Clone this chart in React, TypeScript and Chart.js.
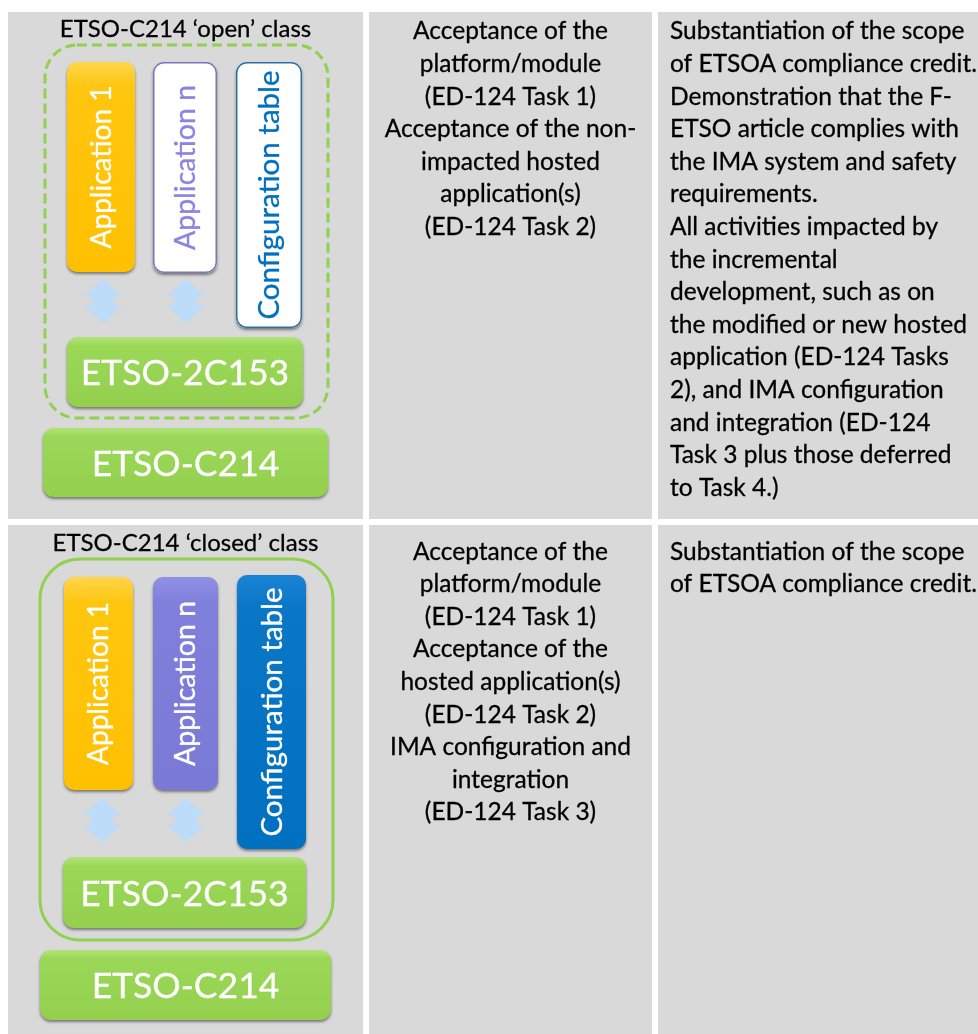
import React, { useEffect, useRef } from "react";
import { Chart, registerables } from "chart.js";

Chart.register(...registerables);

// ---------- content ----------
const classTitles = ["ETSO-C214 \u2018open\u2019 class", "ETSO-C214 \u2018closed\u2019 class"];
const hostedLabels = ["Application 1", "Application n", "Configuration table"];
const platformLabels = ["ETSO-2C153", "ETSO-C214"];
const acceptanceLines = [
  [
    "Acceptance of the",
    "platform/module",
    "(ED-124 Task 1)",
    "Acceptance of the non-",
    "impacted hosted",
    "application(s)",
    "(ED-124 Task 2)",
  ],
  [
    "Acceptance of the",
    "platform/module",
    "(ED-124 Task 1)",
    "Acceptance of the",
    "hosted application(s)",
    "(ED-124 Task 2)",
    "IMA configuration and",
    "integration",
    "(ED-124 Task 3)",
  ],
];
const etsoaLines = [
  [
    "Substantiation of the scope",
    "of ETSOA compliance credit.",
    "Demonstration that the F-",
    "ETSO article complies with",
    "the IMA system and safety",
    "requirements.",
    "All activities impacted by",
    "the incremental",
    "development, such as on",
    "the modified or new hosted",
    "application (ED-124 Tasks",
    "2), and IMA configuration",
    "and integration (ED-124",
    "Task 3 plus those deferred",
    "to Task 4.)",
  ],
  ["Substantiation of the scope", "of ETSOA compliance credit."],
];

// ---------- diagram geometry (diagram units on the x / y scales) ----------
const colEdges = [
  [8, 363],
  [369, 652],
  [658, 978],
];
const rowEdges = [
  [12, 519],
  [525, 1034],
];
const titleBaselines = [37, 551];
const textBaselines = [39.3, 559.5];
const lineStep = 32.6;
const col3TextX = 670;
const containerBoxes = [
  [45, 45, 328, 418],
  [40, 559, 333, 940],
];
const hostedBoxes = [
  [
    [67, 62, 135, 272],
    [153, 62, 217, 273],
    [236, 62, 302, 328],
  ],
  [
    [64, 577, 133, 790],
    [153, 577, 218, 790],
    [237, 575, 306, 849],
  ],
];
const arrowCentersX = [
  [103, 186],
  [102, 186],
];
const arrowSpansY = [
  [279, 323],
  [798, 842],
];
const platformBoxes = [
  [
    [67, 337, 303, 407],
    [43, 428, 328, 497],
  ],
  [
    [63, 857, 306, 928],
    [40, 950, 331, 1020],
  ],
];

const FONT = "Lato";
const GRAY = "#d9d9d9";
const GREEN = "#92d050";

const diagramPlugin = {
  id: "diagram",
  afterDraw(chart: any) {
    const ctx: CanvasRenderingContext2D = chart.ctx;
    const xs = chart.scales.x;
    const ys = chart.scales.y;
    const px = (v: number) => xs.getPixelForValue(v);
    const py = (v: number) => ys.getPixelForValue(v);
    const rect = (b: number[]) => {
      const x0 = px(b[0]);
      const y0 = py(b[1]);
      return { x: x0, y: y0, w: px(b[2]) - x0, h: py(b[3]) - y0 };
    };

    ctx.save();
    ctx.fillStyle = "#ffffff";
    ctx.fillRect(0, 0, chart.width, chart.height);

    // cells
    ctx.fillStyle = GRAY;
    for (const r of rowEdges) {
      for (const c of colEdges) {
        const b = rect([c[0], r[0], c[1], r[1]]);
        ctx.fillRect(b.x, b.y, b.w, b.h);
      }
    }

    const heavyText = (text: string, x: number, y: number, color: string, weight: number) => {
      ctx.fillStyle = color;
      ctx.fillText(text, x, y);
      if (weight > 0) {
        ctx.strokeStyle = color;
        ctx.lineWidth = weight;
        ctx.lineJoin = "round";
        ctx.strokeText(text, x, y);
      }
    };

    const roundBox = (
      b: number[],
      radius: number,
      fill: string | CanvasGradient | null,
      stroke: string | null,
      lw: number,
      shadow: boolean
    ) => {
      const r = rect(b);
      ctx.save();
      if (shadow) {
        ctx.shadowColor = "rgba(0,0,0,0.45)";
        ctx.shadowBlur = 3;
        ctx.shadowOffsetY = 2;
        ctx.shadowOffsetX = 0;
      }
      ctx.beginPath();
      ctx.roundRect(r.x, r.y, r.w, r.h, radius);
      if (fill) {
        ctx.fillStyle = fill;
        ctx.fill();
      }
      ctx.restore();
      if (stroke) {
        ctx.save();
        ctx.beginPath();
        ctx.roundRect(r.x + lw / 2, r.y + lw / 2, r.w - lw, r.h - lw, radius);
        ctx.strokeStyle = stroke;
        ctx.lineWidth = lw;
        ctx.stroke();
        ctx.restore();
      }
    };

    const vGrad = (b: number[], c0: string, c1: string, c2: string) => {
      const r = rect(b);
      const g = ctx.createLinearGradient(0, r.y, 0, r.y + r.h);
      g.addColorStop(0, c0);
      g.addColorStop(0.12, c1);
      g.addColorStop(1, c2);
      return g;
    };

    const verticalText = (b: number[], text: string, color: string, size: number, offset: number) => {
      const r = rect(b);
      ctx.save();
      ctx.translate(r.x + r.w / 2 + offset, r.y + r.h / 2);
      ctx.rotate(-Math.PI / 2);
      ctx.font = `${size}px ${FONT}`;
      ctx.textAlign = "center";
      ctx.textBaseline = "alphabetic";
      heavyText(text, 0, 0, color, 0.3);
      ctx.restore();
    };

    const drawArrow = (cx: number, t: number, bt: number) => {
      const X = px(cx);
      const T = py(t);
      const B = py(bt);
      const hw = 18;
      const sw = 11;
      const hh = 17;
      ctx.save();
      ctx.beginPath();
      ctx.moveTo(X, T);
      ctx.lineTo(X + hw, T + hh);
      ctx.lineTo(X + sw, T + hh);
      ctx.lineTo(X + sw, B - hh);
      ctx.lineTo(X + hw, B - hh);
      ctx.lineTo(X, B);
      ctx.lineTo(X - hw, B - hh);
      ctx.lineTo(X - sw, B - hh);
      ctx.lineTo(X - sw, T + hh);
      ctx.lineTo(X - hw, T + hh);
      ctx.closePath();
      ctx.fillStyle = "#bcdcfa";
      ctx.shadowColor = "rgba(188,220,250,0.8)";
      ctx.shadowBlur = 2;
      ctx.fill();
      ctx.restore();
    };

    for (let row = 0; row < 2; row++) {
      const open = row === 0;
      // title
      ctx.font = `24px ${FONT}`;
      ctx.textAlign = "center";
      ctx.textBaseline = "alphabetic";
      heavyText(classTitles[row], px((colEdges[0][0] + colEdges[0][1]) / 2), py(titleBaselines[row]), "#000000", 0.3);

      // container
      const cb = rect(containerBoxes[row]);
      ctx.save();
      ctx.beginPath();
      ctx.roundRect(cb.x, cb.y, cb.w, cb.h, open ? 32 : 40);
      ctx.strokeStyle = GREEN;
      ctx.lineWidth = 3;
      if (open) ctx.setLineDash([10, 5]);
      ctx.stroke();
      ctx.restore();

      // hosted boxes
      const hb = hostedBoxes[row];
      roundBox(hb[0], 10, vGrad(hb[0], "#ffd54a", "#ffc60f", "#ffc000"), null, 0, true);
      if (open) {
        roundBox(hb[1], 10, "#ffffff", "#7e74b8", 1.5, true);
        roundBox(hb[2], 10, "#ffffff", "#2e6fa8", 1.5, true);
      } else {
        roundBox(hb[1], 10, vGrad(hb[1], "#9090e4", "#8080dc", "#7a7ad6"), null, 0, true);
        roundBox(hb[2], 10, vGrad(hb[2], "#1a84d4", "#0a76c6", "#0070c0"), null, 0, true);
      }
      verticalText(hb[0], hostedLabels[0], "#ffffff", 28, 9.5);
      verticalText(hb[1], hostedLabels[1], open ? "#8a84e2" : "#ffffff", 28.5, 9.5);
      verticalText(hb[2], hostedLabels[2], open ? "#0070c0" : "#ffffff", 29.5, 10);

      // arrows
      for (const ax of arrowCentersX[row]) drawArrow(ax, arrowSpansY[row][0], arrowSpansY[row][1]);

      // platform boxes
      for (let k = 0; k < 2; k++) {
        const pb = platformBoxes[row][k];
        roundBox(pb, 11, vGrad(pb, "#b2e37a", "#9cd858", "#94d04e"), null, 0, true);
        const r = rect(pb);
        ctx.font = `35.5px ${FONT}`;
        ctx.textAlign = "center";
        ctx.textBaseline = "alphabetic";
        heavyText(platformLabels[k], r.x + r.w / 2, r.y + r.h / 2 + 13, "#ffffff", 0.3);
      }

      // column 2 text (centered)
      ctx.font = `24.5px ${FONT}`;
      ctx.textAlign = "center";
      acceptanceLines[row].forEach((ln, i) => {
        heavyText(ln, px((colEdges[1][0] + colEdges[1][1]) / 2), py(textBaselines[row] + i * lineStep), "#000000", 0.3);
      });

      // column 3 text (left)
      ctx.textAlign = "left";
      etsoaLines[row].forEach((ln, i) => {
        heavyText(ln, px(col3TextX), py(textBaselines[row] + i * lineStep), "#000000", 0.3);
      });
    }
    ctx.restore();
  },
};

export default function App() {
  const canvasRef = useRef<HTMLCanvasElement | null>(null);

  useEffect(() => {
    if (!canvasRef.current) return;
    const chart = new Chart(canvasRef.current, {
      type: "scatter",
      data: { datasets: [{ data: [] }] },
      options: {
        animation: false,
        responsive: true,
        maintainAspectRatio: false,
        layout: { padding: 0 },
        plugins: { legend: { display: false }, tooltip: { enabled: false } },
        scales: {
          x: { type: "linear", min: 0, max: 978, display: false },
          y: { type: "linear", min: 0, max: 1034, reverse: true, display: false },
        },
      },
      plugins: [diagramPlugin],
    });
    return () => chart.destroy();
  }, []);

  return (
    <div style={{ position: "fixed", left: 0, top: 0, width: 978, height: 1034, background: "#ffffff" }}>
      <canvas ref={canvasRef} />
    </div>
  );
}
